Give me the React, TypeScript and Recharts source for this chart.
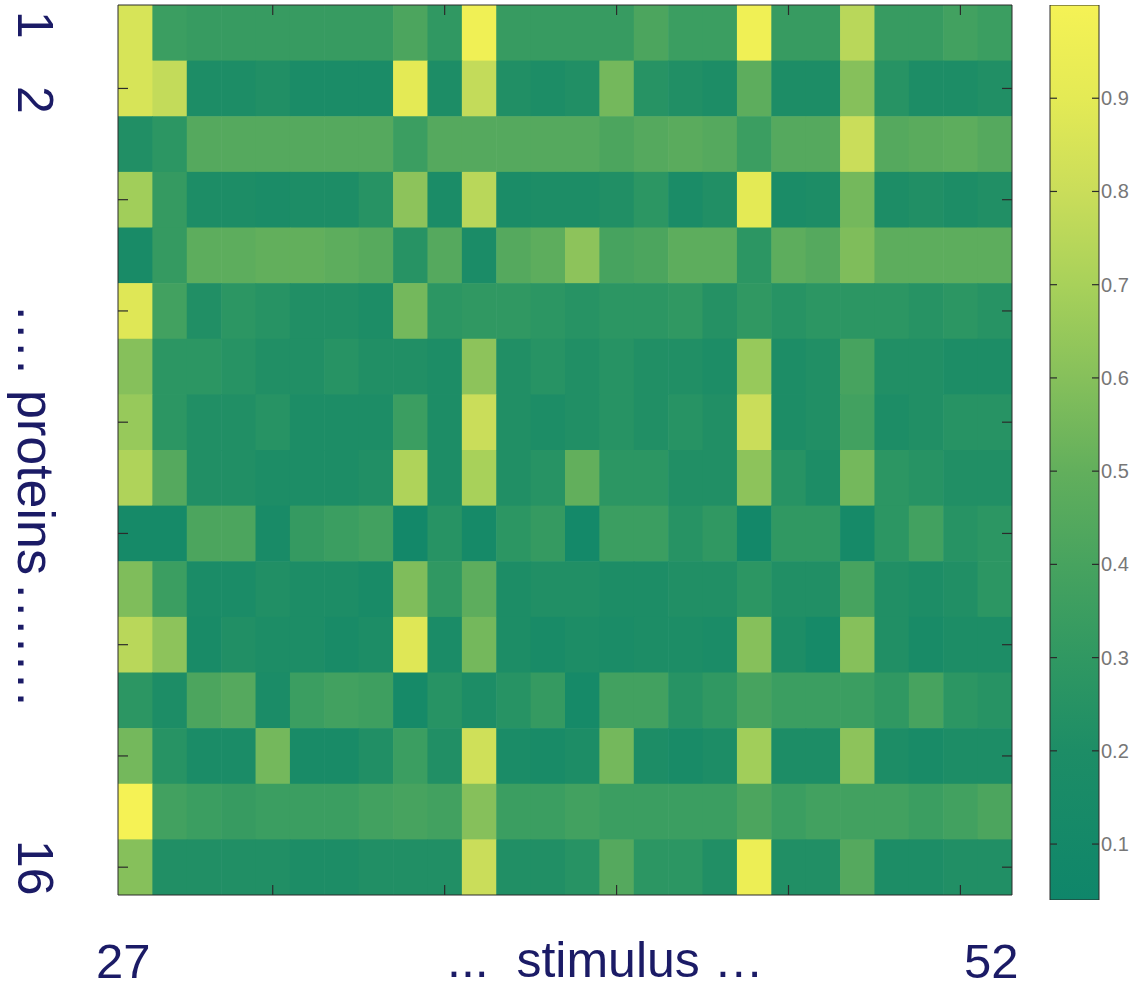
import { ScatterChart, Scatter, XAxis, YAxis, BarChart, Bar } from 'recharts'

// stimulus columns 27..52 and protein rows 1..16
const stimuli = [27, 28, 29, 30, 31, 32, 33, 34, 35, 36, 37, 38, 39, 40, 41, 42, 43, 44, 45, 46, 47, 48, 49, 50, 51, 52]
const proteins = [1, 2, 3, 4, 5, 6, 7, 8, 9, 10, 11, 12, 13, 14, 15, 16]

const protein01 = [0.85, 0.35, 0.33, 0.33, 0.33, 0.33, 0.33, 0.33, 0.42, 0.3, 0.97, 0.33, 0.33, 0.33, 0.33, 0.42, 0.35, 0.35, 0.97, 0.33, 0.33, 0.75, 0.33, 0.33, 0.38, 0.35]
const protein02 = [0.85, 0.78, 0.2, 0.2, 0.22, 0.18, 0.18, 0.18, 0.9, 0.2, 0.78, 0.22, 0.2, 0.22, 0.55, 0.25, 0.22, 0.2, 0.48, 0.2, 0.2, 0.6, 0.25, 0.2, 0.2, 0.22]
const protein03 = [0.22, 0.28, 0.45, 0.45, 0.45, 0.45, 0.45, 0.45, 0.35, 0.45, 0.45, 0.45, 0.45, 0.45, 0.42, 0.45, 0.47, 0.45, 0.35, 0.45, 0.45, 0.8, 0.45, 0.47, 0.48, 0.45]
const protein04 = [0.68, 0.32, 0.2, 0.2, 0.18, 0.2, 0.2, 0.25, 0.62, 0.18, 0.75, 0.18, 0.2, 0.2, 0.22, 0.28, 0.18, 0.22, 0.9, 0.18, 0.2, 0.55, 0.2, 0.22, 0.2, 0.22]
const protein05 = [0.15, 0.32, 0.48, 0.48, 0.5, 0.5, 0.48, 0.46, 0.25, 0.45, 0.18, 0.45, 0.48, 0.62, 0.4, 0.42, 0.48, 0.48, 0.28, 0.48, 0.45, 0.58, 0.48, 0.48, 0.48, 0.48]
const protein06 = [0.88, 0.38, 0.22, 0.28, 0.25, 0.22, 0.22, 0.2, 0.55, 0.28, 0.3, 0.3, 0.28, 0.25, 0.28, 0.28, 0.3, 0.24, 0.3, 0.25, 0.28, 0.28, 0.28, 0.25, 0.28, 0.25]
const protein07 = [0.6, 0.28, 0.28, 0.25, 0.22, 0.22, 0.25, 0.22, 0.22, 0.2, 0.62, 0.22, 0.25, 0.22, 0.25, 0.22, 0.22, 0.2, 0.65, 0.2, 0.22, 0.4, 0.22, 0.22, 0.2, 0.2]
const protein08 = [0.65, 0.28, 0.22, 0.22, 0.25, 0.2, 0.2, 0.2, 0.35, 0.2, 0.8, 0.22, 0.2, 0.22, 0.25, 0.22, 0.25, 0.22, 0.8, 0.2, 0.22, 0.38, 0.2, 0.22, 0.25, 0.25]
const protein09 = [0.72, 0.45, 0.22, 0.22, 0.2, 0.2, 0.2, 0.22, 0.72, 0.2, 0.7, 0.22, 0.25, 0.5, 0.28, 0.28, 0.22, 0.22, 0.62, 0.25, 0.2, 0.55, 0.28, 0.25, 0.22, 0.22]
const protein10 = [0.12, 0.12, 0.42, 0.42, 0.15, 0.32, 0.35, 0.38, 0.08, 0.25, 0.12, 0.28, 0.32, 0.1, 0.35, 0.35, 0.25, 0.3, 0.08, 0.3, 0.3, 0.12, 0.28, 0.38, 0.25, 0.28]
const protein11 = [0.58, 0.35, 0.18, 0.18, 0.22, 0.2, 0.2, 0.15, 0.58, 0.3, 0.48, 0.2, 0.22, 0.22, 0.2, 0.2, 0.22, 0.22, 0.28, 0.22, 0.22, 0.4, 0.22, 0.2, 0.22, 0.28]
const protein12 = [0.75, 0.62, 0.15, 0.22, 0.2, 0.2, 0.15, 0.2, 0.88, 0.18, 0.55, 0.2, 0.15, 0.2, 0.18, 0.2, 0.2, 0.18, 0.6, 0.2, 0.12, 0.6, 0.22, 0.15, 0.2, 0.2]
const protein13 = [0.28, 0.2, 0.42, 0.45, 0.18, 0.35, 0.38, 0.36, 0.12, 0.25, 0.2, 0.25, 0.32, 0.12, 0.38, 0.38, 0.25, 0.3, 0.4, 0.35, 0.35, 0.35, 0.3, 0.4, 0.28, 0.25]
const protein14 = [0.55, 0.25, 0.18, 0.18, 0.55, 0.15, 0.15, 0.22, 0.35, 0.22, 0.82, 0.18, 0.15, 0.2, 0.55, 0.2, 0.15, 0.2, 0.68, 0.2, 0.2, 0.62, 0.2, 0.15, 0.2, 0.2]
const protein15 = [1.0, 0.38, 0.35, 0.33, 0.35, 0.35, 0.35, 0.38, 0.4, 0.38, 0.6, 0.35, 0.35, 0.38, 0.35, 0.35, 0.35, 0.35, 0.42, 0.35, 0.38, 0.38, 0.38, 0.35, 0.38, 0.42]
const protein16 = [0.6, 0.22, 0.22, 0.22, 0.22, 0.2, 0.2, 0.22, 0.22, 0.22, 0.8, 0.22, 0.22, 0.25, 0.45, 0.28, 0.28, 0.22, 0.95, 0.22, 0.22, 0.45, 0.2, 0.2, 0.22, 0.22]

const matrix = [protein01, protein02, protein03, protein04, protein05, protein06, protein07, protein08,
  protein09, protein10, protein11, protein12, protein13, protein14, protein15, protein16]

const xTicks = [31, 36, 41, 46, 51]
const yTicks = [2, 4, 6, 8, 10, 12, 14, 16]
const colorbarTicks = [0.1, 0.2, 0.3, 0.4, 0.5, 0.6, 0.7, 0.8, 0.9]
const colorbarRange = [0.04, 1.0]

// summer-like colormap
const stopValues = [0.04, 0.2, 0.3, 0.4, 0.5, 0.6, 0.7, 0.8, 0.9, 1.0]
const stopColors = ['#0f866a', '#1d8d66', '#309862', '#47a35f', '#62af5c', '#86c05b', '#a8d15a', '#cadd5a', '#e4ea55', '#f5f255']

const hex = (c: string) => [1, 3, 5].map((i) => parseInt(c.slice(i, i + 2), 16))

const colorFor = (v: number) => {
  if (v <= stopValues[0]) return stopColors[0]
  for (let i = 1; i < stopValues.length; i++) {
    if (v <= stopValues[i]) {
      const t = (v - stopValues[i - 1]) / (stopValues[i] - stopValues[i - 1])
      const a = hex(stopColors[i - 1])
      const b = hex(stopColors[i])
      const m = a.map((x, k) => Math.round(x + (b[k] - x) * t))
      return `rgb(${m[0]},${m[1]},${m[2]})`
    }
  }
  return stopColors[stopColors.length - 1]
}

const cells = matrix.flatMap((row, r) =>
  row.map((v, c) => ({ stimulus: stimuli[c], protein: proteins[r], v })),
)

const W = 1132
const H = 988
const margin = { top: 5, right: 120, bottom: 93, left: 118 }
// the frame chart has 1px axes on every side, so its margins are 1px smaller
const frameMargin = { top: 4, right: 119, bottom: 92, left: 117 }
const cellW = (W - margin.left - margin.right) / stimuli.length
const cellH = (H - margin.top - margin.bottom) / proteins.length

const ink = '#1b1b66'
const frame = '#2b2b2b'
const font = 'Liberation Sans, Arial, sans-serif'

const HeatCell = (props: any) => {
  const { cx, cy, payload } = props
  return (
    <rect
      x={cx - cellW / 2}
      y={cy - cellH / 2}
      width={cellW + 0.6}
      height={cellH + 0.6}
      fill={colorFor(payload.v)}
    />
  )
}

const NoMark = () => <g />

// ticks drawn inward, MATLAB style
const inTick = (dx: number, dy: number, len: number) => (props: any) => (
  <line x1={props.x} y1={props.y} x2={props.x + dx * len} y2={props.y + dy * len} stroke={frame} strokeWidth={1.2} />
)

const CB_W = 92
const cbMargin = { top: 5, right: 33, bottom: 88, left: 10 }
const cbFrameMargin = { top: 5, right: 33, bottom: 88, left: 9 }
const cbBarW = CB_W - cbMargin.left - cbMargin.right

// one axis draws the ticks on both edges of the colour bar and the label
const ColorbarTick = (props: any) => (
  <g>
    <line x1={props.x} y1={props.y} x2={props.x + 7} y2={props.y} stroke={frame} strokeWidth={1.2} />
    <line x1={props.x + cbBarW - 7} y1={props.y} x2={props.x + cbBarW} y2={props.y} stroke={frame} strokeWidth={1.2} />
    <text x={props.x + cbBarW + 2} y={props.y} dy={7} fontSize={20} fill="#777" fontFamily={font}>
      {props.payload.value}
    </text>
  </g>
)

const gradientStops = stopValues.map((v, i) => ({
  offset: (v - colorbarRange[0]) / (colorbarRange[1] - colorbarRange[0]),
  color: stopColors[i],
}))

const colorbarData = [{ key: 'scale', range: colorbarRange }]

const axisCommon = {
  type: 'number' as const,
  tickSize: 0,
  tickMargin: 0,
  tickLine: false,
  axisLine: { stroke: frame },
  allowDataOverflow: true,
  interval: 0 as const,
}

export default function App() {
  return (
    <div style={{ position: 'absolute', left: 0, top: 0, width: W, height: H, background: '#fff', overflow: 'hidden' }}>
      {/* heat cells */}
      <div style={{ position: 'absolute', left: 0, top: 0 }}>
        <ScatterChart width={W} height={H} margin={margin}>
          <XAxis xAxisId="bottom" dataKey="stimulus" type="number" domain={[26.5, 52.5]} hide allowDataOverflow />
          <YAxis yAxisId="left" dataKey="protein" type="number" domain={[0.5, 16.5]} reversed hide allowDataOverflow />
          <Scatter data={cells} xAxisId="bottom" yAxisId="left" shape={HeatCell} isAnimationActive={false} />
        </ScatterChart>
      </div>

      {/* frame and inward ticks on all four sides */}
      <div style={{ position: 'absolute', left: 0, top: 0 }}>
        <ScatterChart width={W} height={H} margin={frameMargin}>
          <XAxis {...axisCommon} xAxisId="bottom" dataKey="stimulus" orientation="bottom" domain={[26.5, 52.5]} ticks={xTicks} height={1} tick={inTick(0, -1, 10)} />
          <XAxis {...axisCommon} xAxisId="top" dataKey="stimulus" orientation="top" domain={[26.5, 52.5]} ticks={xTicks} height={1} tick={inTick(0, 1, 10)} />
          <YAxis {...axisCommon} yAxisId="left" dataKey="protein" orientation="left" domain={[0.5, 16.5]} reversed ticks={yTicks} width={1} tick={inTick(1, 0, 10)} />
          <YAxis {...axisCommon} yAxisId="right" dataKey="protein" orientation="right" domain={[0.5, 16.5]} reversed ticks={yTicks} width={1} tick={inTick(-1, 0, 10)} />
          <Scatter data={cells} xAxisId="bottom" yAxisId="left" shape={NoMark} isAnimationActive={false} />
          <Scatter data={cells} xAxisId="top" yAxisId="right" shape={NoMark} isAnimationActive={false} />
        </ScatterChart>
      </div>

      {/* colour bar */}
      <div style={{ position: 'absolute', left: 1040, top: 0 }}>
        <BarChart width={CB_W} height={H} data={colorbarData} margin={cbMargin} barCategoryGap={0}>
          <defs>
            <linearGradient id="summerBar" x1="0" y1="1" x2="0" y2="0">
              {gradientStops.map((s) => (
                <stop key={s.offset} offset={s.offset} stopColor={s.color} />
              ))}
            </linearGradient>
          </defs>
          <XAxis dataKey="key" hide />
          <YAxis type="number" domain={colorbarRange} hide allowDataOverflow />
          <Bar dataKey="range" fill="url(#summerBar)" isAnimationActive={false} />
        </BarChart>
      </div>
      <div style={{ position: 'absolute', left: 1040, top: 0 }}>
        <BarChart width={CB_W} height={H} data={colorbarData} margin={cbFrameMargin} barCategoryGap={0}>
          <XAxis dataKey="key" hide />
          <YAxis {...axisCommon} orientation="left" domain={colorbarRange} ticks={colorbarTicks} width={1} axisLine={false} tick={ColorbarTick} />
          <Bar dataKey="range" fill="none" stroke={frame} strokeWidth={1} isAnimationActive={false} />
        </BarChart>
      </div>

      <svg width={W} height={H} style={{ position: 'absolute', left: 0, top: 0, pointerEvents: 'none' }}>
        <g fill={ink} fontFamily={font}>
          <text transform="translate(18, 11) rotate(90)" fontSize={50}>1</text>
          <text transform="translate(18, 86) rotate(90)" fontSize={50}>2</text>
          <text transform="translate(18, 306) rotate(90)" fontSize={52} letterSpacing={3.5}>....</text>
          <text transform="translate(18, 390) rotate(90)" fontSize={52}>proteins</text>
          <text transform="translate(18, 584) rotate(90)" fontSize={52} letterSpacing={3.5}>.......</text>
          <text transform="translate(18, 840) rotate(90)" fontSize={50}>16</text>
          <text x={96} y={978} fontSize={49}>27</text>
          <text x={447} y={977} fontSize={50} xmlSpace="preserve">...  stimulus …</text>
          <text x={964} y={978} fontSize={49}>52</text>
        </g>
      </svg>
    </div>
  )
}
